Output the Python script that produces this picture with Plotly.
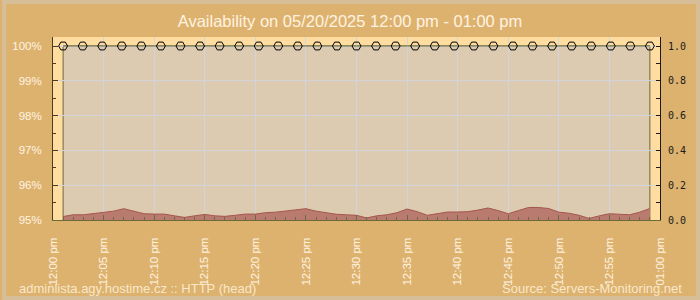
import plotly.graph_objects as go

DAY = "2025-05-20 "
TITLE = "Availability on 05/20/2025 12:00 pm - 01:00 pm"
FOOT_LEFT = "adminlista.agy.hostime.cz :: HTTP (head)"
FOOT_RIGHT = "Source: Servers-Monitoring.net"

# availability checks (percent)
check_times = ["12:01:00", "12:02:56", "12:04:52", "12:06:48", "12:08:44", "12:10:40",
               "12:12:36", "12:14:32", "12:16:28", "12:18:24", "12:20:20", "12:22:16",
               "12:24:12", "12:26:08", "12:28:04", "12:30:00", "12:31:56", "12:33:52",
               "12:35:48", "12:37:44", "12:39:40", "12:41:36", "12:43:32", "12:45:28",
               "12:47:24", "12:49:20", "12:51:16", "12:53:12", "12:55:08", "12:57:04",
               "12:59:00"]
availability = [100] * len(check_times)

# response time (seconds), right axis
resp_times = ["12:01", "12:02", "12:03", "12:04", "12:05", "12:06", "12:07", "12:08", "12:09", "12:10",
              "12:11", "12:12", "12:13", "12:14", "12:15", "12:16", "12:17", "12:18", "12:19", "12:20",
              "12:21", "12:22", "12:23", "12:24", "12:25", "12:26", "12:27", "12:28", "12:29", "12:30",
              "12:31", "12:32", "12:33", "12:34", "12:35", "12:36", "12:37", "12:38", "12:39", "12:40",
              "12:41", "12:42", "12:43", "12:44", "12:45", "12:46", "12:47", "12:48", "12:49", "12:50",
              "12:51", "12:52", "12:53", "12:54", "12:55", "12:56", "12:57", "12:58", "12:59"]
resp_values = [0.020, 0.030, 0.030, 0.038, 0.042, 0.051, 0.065, 0.051, 0.036, 0.034,
               0.034, 0.024, 0.015, 0.024, 0.032, 0.024, 0.021, 0.027, 0.034, 0.034,
               0.042, 0.045, 0.051, 0.058, 0.065, 0.051, 0.042, 0.033, 0.030, 0.027,
               0.012, 0.024, 0.030, 0.042, 0.063, 0.048, 0.027, 0.036, 0.046, 0.046,
               0.048, 0.057, 0.069, 0.054, 0.036, 0.054, 0.072, 0.072, 0.066, 0.045,
               0.039, 0.027, 0.009, 0.024, 0.036, 0.033, 0.030, 0.045, 0.066]

x_ticks = ["12:00", "12:05", "12:10", "12:15", "12:20", "12:25", "12:30",
           "12:35", "12:40", "12:45", "12:50", "12:55", "13:00"]
x_tick_text = ["12:00 pm", "12:05 pm", "12:10 pm", "12:15 pm", "12:20 pm", "12:25 pm", "12:30 pm",
               "12:35 pm", "12:40 pm", "12:45 pm", "12:50 pm", "12:55 pm", "01:00 pm"]
y_ticks = [95, 96, 97, 98, 99, 100]
y_tick_text = ["95%", "96%", "97%", "98%", "99%", "100%"]
y2_ticks = [0.0, 0.2, 0.4, 0.6, 0.8, 1.0]
y2_tick_text = ["0.0", "0.2", "0.4", "0.6", "0.8", "1.0"]

TAN = "#ddb26f"
CREAM = "#ffdc9f"
BEIGE = "#dccbb1"
OLIVE = "#6b6b3c"
BROWN = "#4d3b1f"
LIGHT = "#fff3e0"
GRID = "#d3d3da"

cx = [DAY + t for t in check_times]
rx = [DAY + t for t in resp_times]

fig = go.Figure()

fig.add_trace(go.Scatter(
    x=rx, y=resp_values, yaxis="y2", mode="lines",
    line=dict(color="#a5564d", width=1), fill="tozeroy", fillcolor="#b97b70",
    hoverinfo="skip", showlegend=False))

fig.add_trace(go.Scatter(
    x=cx, y=availability, mode="lines+markers",
    line=dict(color=OLIVE, width=1),
    marker=dict(symbol="hexagon2-open", size=9, color="black", line=dict(color="black", width=1)),
    cliponaxis=False, hoverinfo="skip", showlegend=False))

L, R, T, B = 51, 40, 37, 80
W, H = 700, 300
pw, ph = W - L - R, H - T - B

def px(xp):
    return (xp - L) / pw

def py(yp):
    return (H - B - yp) / ph

ymin = min(y_ticks)
ymax = 100 + 9 / 174 * 5
shapes = [
    # availability region
    dict(type="rect", xref="x", yref="y", x0=cx[0], x1=cx[-1], y0=ymin, y1=max(availability),
         fillcolor=BEIGE, line=dict(color=OLIVE, width=1), layer="below"),
    # outer border
    dict(type="rect", xref="paper", yref="paper", x0=px(2), x1=px(W - 2), y0=py(H - 2), y1=py(2),
         line=dict(color="#d6bf98", width=4), fillcolor="rgba(0,0,0,0)", layer="below"),
]

annotations = [
    dict(text=FOOT_LEFT, xref="paper", yref="paper", x=px(15), y=py(288), xanchor="left",
         yanchor="middle", showarrow=False,
         font=dict(family="Liberation Sans, Arial, sans-serif", size=13, color="rgba(255,242,220,0.85)")),
    dict(text=FOOT_RIGHT, xref="paper", yref="paper", x=px(684), y=py(288), xanchor="right",
         yanchor="middle", showarrow=False,
         font=dict(family="Liberation Sans, Arial, sans-serif", size=13, color="rgba(255,242,220,0.85)")),
]

fig.update_layout(
    width=W, height=H,
    margin=dict(l=L, r=R, t=T, b=B, pad=0),
    paper_bgcolor=TAN, plot_bgcolor=CREAM,
    title=dict(text=TITLE, x=0.5, xref="container", xanchor="center", y=1 - 21 / H,
               yref="container", yanchor="middle",
               font=dict(family="Liberation Sans, Arial, sans-serif", size=16.5, color=LIGHT,
                         weight=500)),
    shapes=shapes, annotations=annotations,
    xaxis=dict(
        type="date", range=[DAY + x_ticks[0], DAY + x_ticks[-1]],
        tickmode="array", tickvals=[DAY + t for t in x_ticks], ticktext=x_tick_text,
        tickangle=-90, ticks="inside", ticklen=5, tickcolor=OLIVE, tickwidth=1,
        minor=dict(dtick=60000, ticks="inside", ticklen=3, tickcolor=OLIVE, showgrid=False),
        showgrid=True, gridcolor=GRID, gridwidth=1,
        showline=True, linecolor=OLIVE, linewidth=1,
        ticklabelstandoff=12,
        tickfont=dict(family="Liberation Sans, Arial, sans-serif", size=11.5, color=LIGHT),
        zeroline=False, fixedrange=True),
    yaxis=dict(
        range=[ymin, ymax], tickmode="array", tickvals=y_ticks, ticktext=y_tick_text,
        ticks="inside", ticklen=5, tickcolor=BROWN,
        minor=dict(dtick=0.5, ticks="inside", ticklen=3, tickcolor=BROWN, showgrid=False),
        showgrid=True, gridcolor=GRID, gridwidth=1,
        showline=True, linecolor=BROWN, linewidth=1, ticklabelstandoff=8,
        tickfont=dict(family="Liberation Sans, Arial, sans-serif", size=11.5, color=LIGHT),
        zeroline=False, fixedrange=True),
    yaxis2=dict(
        overlaying="y", side="right", range=[0, 1 + 9 / 174],
        tickmode="array", tickvals=y2_ticks, ticktext=y2_tick_text,
        ticks="inside", ticklen=4, tickcolor="#1a1a1a",
        minor=dict(dtick=0.1, ticks="inside", ticklen=4, tickcolor="#1a1a1a", showgrid=False),
        showgrid=False, showline=True, linecolor="#1a1a1a", linewidth=1, ticklabelstandoff=5,
        tickfont=dict(family="DejaVu Sans Mono, monospace", size=10, color="#1a1a1a"),
        zeroline=False, fixedrange=True),
)

fig.write_html("out.html")
